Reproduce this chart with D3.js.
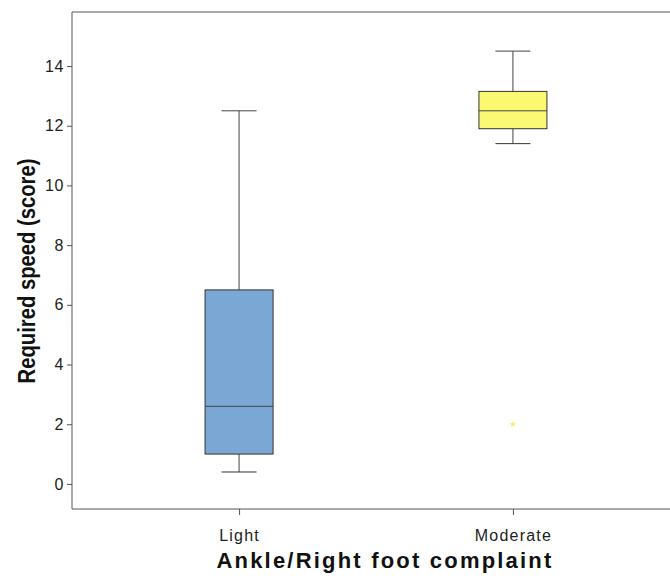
<!DOCTYPE html>
<html>
<head>
<meta charset="utf-8">
<script src="https://cdn.jsdelivr.net/npm/d3@7"></script>
<style>
  body { margin: 0; background: #fff; }
  text { font-family: "Liberation Sans", Arial, sans-serif; }
</style>
</head>
<body>
<svg id="chart" width="670" height="576"></svg>
<script>
// categories and box stats
var categories = ["Light", "Moderate"];
var whiskerLow = [0.4, 11.4];
var q1 = [1.0, 11.9];
var median = [2.6, 12.5];
var q3 = [6.5, 13.15];
var whiskerHigh = [12.5, 14.5];
var fills = ["#7ba7d4", "#fbf872"];
var outliers = [{cat: "Moderate", value: 2.0}];
var yTicks = [0, 2, 4, 6, 8, 10, 12, 14];

var svg = d3.select("#chart");

var mLeft = 72, mRight = 680, mTop = 12, mBottom = 509;

var x = d3.scalePoint().domain(categories).range([mLeft, mRight]).padding(0.61);
var y = d3.scaleLinear().domain([-0.84, 15.81]).range([mBottom, mTop]);

var boxW = 68, capW = 35;

// frame (right side runs off the picture)
svg.append("path")
  .attr("d", "M" + mRight + "," + mTop + "H" + mLeft + "V" + mBottom + "H" + mRight)
  .attr("fill", "none")
  .attr("stroke", "#555")
  .attr("stroke-width", 1);

// y axis
var yAxis = svg.append("g")
  .attr("transform", "translate(" + mLeft + ",0)")
  .call(d3.axisLeft(y).tickValues(yTicks).tickSize(5).tickPadding(3));
yAxis.select(".domain").remove();
yAxis.selectAll("text").attr("font-size", 16).attr("fill", "#222")
  .attr("letter-spacing", 0.6)
  .style("font-family", "'Liberation Sans', Arial, sans-serif");
yAxis.selectAll("line").attr("stroke", "#555");

// x axis
var xAxis = svg.append("g")
  .attr("transform", "translate(0," + mBottom + ")")
  .call(d3.axisBottom(x).tickSize(6).tickPadding(15));
xAxis.select(".domain").remove();
xAxis.selectAll("text").attr("font-size", 16).attr("fill", "#222")
  .attr("letter-spacing", 1.2)
  .style("font-family", "'Liberation Sans', Arial, sans-serif");
xAxis.selectAll("line").attr("stroke", "#555");

// boxes
var groups = svg.selectAll("g.box")
  .data(categories)
  .enter()
  .append("g")
  .attr("class", "box");

groups.append("line") // upper whisker
  .attr("x1", function(d){return x(d);})
  .attr("x2", function(d){return x(d);})
  .attr("y1", function(d, i){return y(whiskerHigh[i]);})
  .attr("y2", function(d, i){return y(q3[i]);})
  .attr("stroke", "#444");

groups.append("line") // lower whisker
  .attr("x1", function(d){return x(d);})
  .attr("x2", function(d){return x(d);})
  .attr("y1", function(d, i){return y(q1[i]);})
  .attr("y2", function(d, i){return y(whiskerLow[i]);})
  .attr("stroke", "#444");

groups.append("line") // top cap
  .attr("x1", function(d){return x(d) - capW / 2;})
  .attr("x2", function(d){return x(d) + capW / 2;})
  .attr("y1", function(d, i){return y(whiskerHigh[i]);})
  .attr("y2", function(d, i){return y(whiskerHigh[i]);})
  .attr("stroke", "#444");

groups.append("line") // bottom cap
  .attr("x1", function(d){return x(d) - capW / 2;})
  .attr("x2", function(d){return x(d) + capW / 2;})
  .attr("y1", function(d, i){return y(whiskerLow[i]);})
  .attr("y2", function(d, i){return y(whiskerLow[i]);})
  .attr("stroke", "#333");

groups.append("rect")
  .attr("x", function(d){return x(d) - boxW / 2;})
  .attr("y", function(d, i){return y(q3[i]);})
  .attr("width", boxW)
  .attr("height", function(d, i){return y(q1[i]) - y(q3[i]);})
  .attr("fill", function(d, i){return fills[i];})
  .attr("stroke", "#333");

groups.append("line") // median
  .attr("x1", function(d){return x(d) - boxW / 2;})
  .attr("x2", function(d){return x(d) + boxW / 2;})
  .attr("y1", function(d, i){return y(median[i]);})
  .attr("y2", function(d, i){return y(median[i]);})
  .attr("stroke", "#444");

// outlier star
svg.selectAll("path.outlier")
  .data(outliers)
  .enter()
  .append("path")
  .attr("class", "outlier")
  .attr("d", d3.symbol().type(d3.symbolStar).size(14))
  .attr("transform", function(d){return "translate(" + x(d.cat) + "," + y(d.value) + ")";})
  .attr("fill", "#f6f060");

// axis titles
svg.append("text")
  .attr("x", 385)
  .attr("y", 568)
  .attr("text-anchor", "middle")
  .attr("font-size", 22)
  .attr("font-weight", "bold")
  .attr("letter-spacing", 2.2)
  .attr("fill", "#111")
  .text("Ankle/Right foot complaint");

// y title looks squeezed along its length in the original
svg.append("text")
  .attr("transform", "translate(35," + 271 + ") rotate(-90) scale(0.88,1)")
  .attr("text-anchor", "middle")
  .attr("font-size", 23)
  .attr("font-weight", "bold")
  .attr("fill", "#111")
  .text("Required speed (score)");
</script>
</body>
</html>
